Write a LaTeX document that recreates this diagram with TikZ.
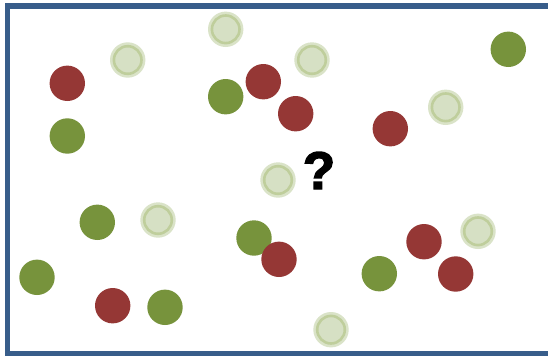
\documentclass[tikz,border=0pt]{standalone}
\usepackage{fontspec}
\newfontfamily\qfont{Liberation Sans}[FakeBold=2.6]
\definecolor{frameblue}{HTML}{385D8A}
\definecolor{dotgreen}{HTML}{77933C}
\definecolor{dotred}{HTML}{953735}
\definecolor{halo}{HTML}{DAE3C8}
\definecolor{ringc}{HTML}{BFCE9C}
\definecolor{ltfill}{HTML}{D6E0C4}
\tikzset{
  dot/.style={circle, inner sep=0pt, minimum size=35.4pt},
  greendot/.style={dot, fill=dotgreen},
  reddot/.style={dot, fill=dotred},
  ltdot/.style={dot, fill=halo, path picture={
      \draw[ringc, line width=2.6pt, fill=ltfill] (path picture bounding box.center) circle (13.8pt);}},
  qmark/.style={anchor=base, inner sep=0pt, font=\qfont\bfseries\fontsize{53}{53}\selectfont}
}
\begin{document}
\begin{tikzpicture}[x=1pt,y=-1pt]
\useasboundingbox (0,0) rectangle (548,356);
\clip (0,0) rectangle (548,356);
\fill[white] (0,0) rectangle (548,356);
\draw[frameblue, line width=5.3pt] (7.3,6) rectangle (570,353.3);
% green
\node[greendot] (g1) at (508.3,49.3) {};
\node[greendot] (g2) at (225.7,96.7) {};
\node[greendot] (g3) at (67.3,136) {};
\node[greendot] (g4) at (97.3,222.3) {};
\node[greendot] (g5) at (254,238) {};
\node[greendot] (g6) at (37,277.3) {};
\node[greendot] (g7) at (165,307.3) {};
\node[greendot] (g8) at (379.3,273.7) {};
% red
\node[reddot] (r1) at (67.3,83.3) {};
\node[reddot] (r2) at (263.3,81.7) {};
\node[reddot] (r3) at (295.7,113.7) {};
\node[reddot] (r4) at (390.3,128.7) {};
\node[reddot] (r5) at (279,259.3) {};
\node[reddot] (r6) at (424,241.7) {};
\node[reddot] (r7) at (455.7,274) {};
\node[reddot] (r8) at (112.7,305.7) {};
% light
\node[ltdot] (l1) at (225.7,29.3) {};
\node[ltdot] (l2) at (127.7,60) {};
\node[ltdot] (l3) at (312,60) {};
\node[ltdot] (l4) at (445.7,107.3) {};
\node[ltdot] (l5) at (278,180) {};
\node[ltdot] (l6) at (158,220) {};
\node[ltdot] (l7) at (478,231.3) {};
\node[ltdot] (l8) at (331,329.7) {};
% question mark
\node[qmark] (q) at (319,189) {?};
\end{tikzpicture}
\end{document}
